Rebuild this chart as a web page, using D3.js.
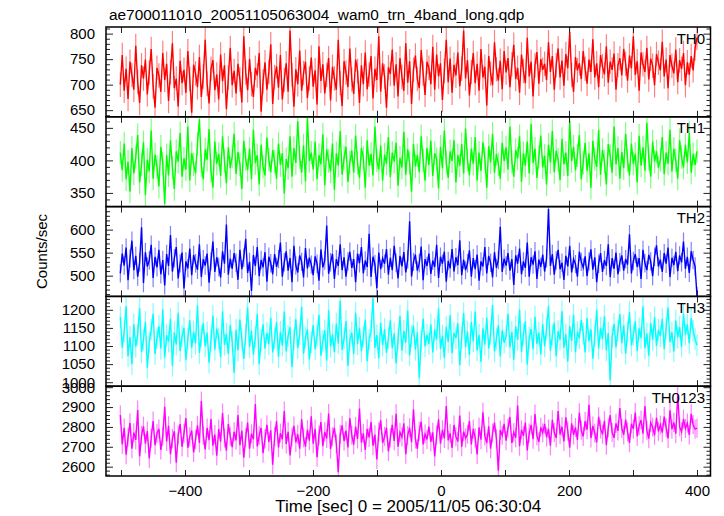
<!DOCTYPE html>
<html>
<head>
<meta charset="utf-8">
<script src="https://cdn.jsdelivr.net/npm/d3@7"></script>
<style>
html,body{margin:0;padding:0;background:#fff;}
svg{display:block;font-family:"Liberation Sans",Arial,Helvetica,sans-serif;}
</style>
</head>
<body>
<svg id="chart" width="724" height="516"></svg>
<script>
// ---- data ----
const titleText = "ae700011010_20051105063004_wam0_trn_4band_long.qdp";
const xLabel = "Time [sec] 0 = 2005/11/05 06:30:04";
const yLabel = "Counts/sec";
const binFirst = -501, binLast = 400; // time of first and last bin (sec)
const xTickValues = [-500,-400,-300,-200,-100,0,100,200,300,400];
const xTickLabels = [-400,-200,0,200,400];

const panelNames = ["TH0","TH1","TH2","TH3","TH0123"];
const panelColors = ["#ff0000","#00ff00","#0000ff","#00ffff","#ff00ff"];
const yDomains = [[637,813],[329,467],[455,650],[989,1237],[2553,3005]];
const yMajorTicks = [[650,700,750,800],[350,400,450],[500,550,600],[1000,1050,1100,1150,1200],[2600,2700,2800,2900,3000]];
const yMinorStep = [10,10,10,10,20];
const yErrors = [24,18,20,30,48]; // typical 1-sigma error bar per band (counts/sec)

const th0 = [
700,758,688,731,672,745,719,690,776,705,664,738,712,749,681,724,770,697,655,733,
718,686,762,709,741,668,725,781,693,712,657,747,703,729,684,766,711,645,739,722,
695,754,676,716,788,702,663,731,748,689,720,671,759,707,738,652,714,772,699,727,
683,741,710,665,795,724,689,750,701,676,733,718,762,647,706,744,690,725,779,662,
715,736,694,758,671,709,742,686,806,719,657,730,701,767,688,723,745,674,712,753,
696,728,661,775,707,740,683,719,752,669,735,712,690,788,703,658,746,724,695,771,
710,682,749,727,664,738,701,763,691,720,756,673,731,709,795,686,742,716,655,734,
721,769,698,740,677,752,715,688,781,704,746,662,729,757,711,693,768,722,680,745,
733,701,774,690,759,716,742,670,727,788,705,751,684,739,718,763,697,731,806,712,
748,679,725,762,703,741,688,770,714,735,659,756,722,699,783,730,708,747,691,766,
724,752,695,740,778,711,733,684,759,727,703,792,716,745,677,738,764,702,750,729,
741,709,783,725,756,690,738,771,714,747,698,760,732,803,719,686,754,728,742,711,
766,731,702,749,725,789,714,742,695,758,736,720,775,704,745,729,761,690,738,752,
718,770,741,708,757,732,795,719,746,688,763,740,725,772,710,751,737,699,760,743,
728,784,716,749,693,758,737,722,769,705,748,731,762,699,744,719,756,728,771,792];

const th1 = [
412,385,426,371,398,352,419,380,405,439,366,394,428,347,401,383,446,372,409,390,
360,421,395,333,408,377,431,389,356,414,398,442,375,403,386,452,369,411,394,380,
425,463,392,371,417,401,448,384,358,429,395,410,376,437,399,365,420,388,406,441,
379,413,394,356,430,402,385,418,371,447,396,408,363,424,390,377,435,401,382,416,
398,372,426,393,411,349,402,388,437,375,419,396,460,405,381,423,368,467,399,412,
386,429,371,408,394,440,362,417,399,383,426,355,411,392,445,378,404,421,367,397,
415,381,438,396,373,419,404,358,431,392,410,377,452,400,386,423,369,409,395,436,
374,412,398,427,361,404,389,444,378,417,396,352,425,391,408,382,437,400,369,419,
393,430,376,411,402,357,421,388,446,397,373,414,399,431,366,408,392,425,380,449,
401,377,418,395,436,369,412,384,428,403,358,422,397,441,381,410,394,372,427,399,
420,386,452,398,375,416,403,437,367,411,392,429,380,456,396,418,373,405,438,389,
407,363,424,397,445,382,415,401,370,433,394,412,376,460,399,421,385,408,439,371,
396,427,384,411,358,430,402,390,447,378,416,398,363,425,407,381,452,394,419,372,
413,388,441,400,377,426,395,410,366,438,392,420,384,458,403,375,429,398,414,389,
401,436,379,412,395,447,383,418,400,372,431,405,389,424,397,442,381,410,393,414];

const th2 = [
505,548,522,561,490,537,576,512,543,498,529,605,484,551,520,533,567,495,541,518,
556,503,534,479,547,521,588,509,538,562,494,527,550,472,531,516,559,501,545,527,
513,568,497,536,522,548,485,531,574,508,540,519,496,553,526,611,502,537,515,549,
528,491,556,514,539,580,506,530,467,545,521,562,499,534,518,551,487,541,527,503,
547,519,536,572,498,529,553,511,538,486,565,522,507,544,530,496,560,516,539,524,
501,542,526,489,557,518,533,609,504,529,547,493,536,521,568,512,540,498,531,552,
517,536,486,548,527,562,505,533,519,591,497,541,525,473,550,514,538,526,558,502,
539,512,565,528,494,543,520,551,507,535,618,498,530,546,511,527,563,490,536,521,
548,504,533,519,567,495,541,526,552,487,532,516,558,509,540,523,577,501,535,512,
527,555,498,538,514,546,489,531,520,562,505,543,528,496,551,517,534,606,508,537,
522,549,511,536,480,544,526,559,503,531,517,572,498,540,524,553,493,535,519,546,
509,538,645,521,547,502,533,556,514,528,491,543,520,565,507,536,525,498,552,530,
518,542,499,531,557,513,540,486,526,549,508,534,521,568,497,538,515,550,503,529,
544,511,536,524,590,505,532,547,519,538,493,556,527,512,545,531,499,541,566,520,
535,508,549,526,561,497,539,523,552,510,544,529,574,515,541,506,553,534,520,456];

const th3 = [
1180,1095,1140,1210,1072,1125,1050,1160,1098,1132,1205,1083,1118,1167,1040,1110,1145,1189,1078,1122,
1155,1093,1201,1068,1130,1112,1176,1045,1138,1104,1192,1086,1127,1150,1061,1119,1171,1095,1140,1107,
1212,1081,1128,1163,1099,1137,1054,1115,1184,1090,1148,1121,1069,1196,1103,1134,1078,1158,1112,1026,
1145,1088,1173,1119,1064,1131,1207,1097,1142,1076,1125,1188,1050,1116,1160,1093,1136,1105,1178,1082,
1121,1166,1070,1139,1101,1195,1085,1128,1152,1042,1117,1174,1094,1133,1208,1079,1124,1146,1063,1110,
1158,1091,1129,1186,1073,1114,1143,1060,1199,1098,1132,1083,1162,1107,1225,1089,1121,1169,1045,1116,
1137,1078,1192,1105,1150,1086,1126,1173,1058,1118,1141,1233,1095,1130,1066,1164,1102,1147,1081,1122,
1171,1094,1135,1052,1119,1183,1087,1142,1109,1198,1074,1127,1156,1090,1138,1011,1115,1176,1099,1131,
1106,1160,1082,1145,1118,1204,1092,1129,1067,1153,1111,1185,1080,1136,1122,1163,1047,1124,1191,1097,
1140,1075,1166,1113,1195,1088,1131,1056,1149,1104,1178,1093,1134,1213,1085,1120,1157,1071,1143,1109,
1126,1189,1096,1139,1062,1154,1117,1201,1084,1133,1168,1049,1123,1147,1091,1181,1106,1137,1077,1160,
1099,1148,1210,1087,1129,1164,1072,1141,1118,1196,1095,1132,1057,1155,1114,1186,1083,1139,1121,1172,
1134,1082,1177,1113,1146,1065,1127,1200,1093,1150,1119,1183,1088,1136,1005,1125,1161,1097,1142,1188,
1108,1157,1079,1139,1194,1102,1130,1168,1086,1149,1122,1210,1094,1135,1073,1163,1117,1180,1100,1145,
1127,1175,1092,1150,1206,1111,1138,1085,1170,1124,1152,1098,1189,1131,1160,1107,1178,1142,1119,1102];

const th0123 = [
2860,2712,2795,2660,2748,2820,2690,2771,2735,2885,2652,2758,2803,2716,2779,2641,2744,2830,2708,2767,
2790,2684,2752,2901,2727,2806,2663,2741,2778,2620,2759,2815,2700,2768,2845,2695,2750,2782,2672,2736,
2808,2719,2930,2757,2687,2795,2733,2840,2706,2762,2655,2789,2726,2870,2744,2681,2815,2752,2698,2775,
2733,2860,2708,2781,2645,2746,2822,2691,2766,2738,2915,2702,2757,2795,2668,2740,2811,2725,2783,2610,
2752,2829,2697,2769,2738,2880,2714,2775,2656,2748,2805,2722,2763,2690,2838,2745,2701,2786,2731,2853,
2716,2790,2648,2759,2824,2703,2775,2742,2867,2688,2751,2796,2715,2572,2763,2808,2729,2781,2697,2844,
2758,2711,2802,2739,2893,2722,2768,2684,2790,2747,2824,2705,2761,2636,2776,2833,2719,2752,2795,2677,
2745,2811,2730,2866,2701,2772,2749,2818,2663,2757,2796,2723,2889,2740,2690,2778,2826,2712,2764,2737,
2802,2725,2773,2651,2759,2838,2716,2785,2742,2905,2733,2768,2694,2810,2751,2727,2857,2701,2776,2744,
2763,2830,2712,2790,2745,2662,2798,2736,2874,2755,2719,2803,2690,2769,2822,2740,2580,2784,2758,2816,
2731,2795,2850,2719,2772,2746,2908,2703,2786,2755,2822,2682,2769,2810,2738,2865,2756,2724,2798,2771,
2815,2749,2790,2706,2836,2772,2744,2880,2762,2801,2727,2848,2779,2695,2818,2760,2797,2735,2871,2783,
2752,2829,2786,2912,2744,2805,2768,2722,2851,2790,2763,2831,2708,2796,2859,2772,2745,2818,2780,2895,
2794,2760,2837,2775,2720,2816,2789,2872,2752,2806,2835,2766,2905,2783,2741,2821,2798,2758,2846,2778,
2810,2771,2852,2796,2742,2884,2789,2823,2766,2958,2801,2775,2840,2792,2819,2760,2866,2811,2789,2794];

const seriesList = [th0, th1, th2, th3, th0123];

// ---- layout ----
const W = 724, H = 516;
const plotLeft = 106, plotRight = 710.5, plotTop = 27, plotBottom = 476;
const nPanels = panelNames.length;
const ph = (plotBottom - plotTop) / nPanels;
const FONT = 15;
const FF = "'Liberation Sans', Arial, Helvetica, sans-serif";

const svg = d3.select("#chart");
svg.append("rect").attr("width", W).attr("height", H).attr("fill", "#fff");

const x = d3.scaleLinear().domain([-523.4, 421.1]).range([plotLeft, plotRight]);

function timeOf(j, n) { return binFirst + j * (binLast - binFirst) / (n - 1); }

panelNames.forEach((name, i) => {
  const y0 = plotTop + i * ph;
  const y = d3.scaleLinear().domain(yDomains[i]).range([y0 + ph, y0]);
  const g = svg.append("g");

  const clipId = "clip" + i;
  svg.append("clipPath").attr("id", clipId)
    .append("rect").attr("x", plotLeft).attr("y", y0).attr("width", plotRight - plotLeft).attr("height", ph);

  const data = seriesList[i];
  const dg = g.append("g").attr("clip-path", `url(#${clipId})`);

  // error bars (lighter)
  dg.append("g").selectAll("line").data(data).join("line")
    .attr("x1", (d, j) => x(timeOf(j, data.length)))
    .attr("x2", (d, j) => x(timeOf(j, data.length)))
    .attr("y1", d => y(d - yErrors[i]))
    .attr("y2", d => y(d + yErrors[i]))
    .attr("stroke", panelColors[i])
    .attr("stroke-opacity", 0.5)
    .attr("stroke-width", 1.2);

  const line = d3.line().x((d, j) => x(timeOf(j, data.length))).y(d => y(d));
  dg.append("path").datum(data)
    .attr("d", line)
    .attr("fill", "none")
    .attr("stroke", panelColors[i])
    .attr("stroke-width", 1.4)
    .attr("stroke-linejoin", "miter");

  const [d0, d1] = yDomains[i];
  const minorVals = d3.range(Math.ceil(d0 / yMinorStep[i]) * yMinorStep[i], d1, yMinorStep[i])
    .filter(v => !yMajorTicks[i].includes(v));
  const axL = g.append("g").attr("transform", `translate(${plotLeft},0)`)
    .call(d3.axisLeft(y).tickValues(yMajorTicks[i]).tickSizeInner(-7).tickSizeOuter(0).tickPadding(11).tickFormat(d3.format("d")));
  const axLm = g.append("g").attr("transform", `translate(${plotLeft},0)`)
    .call(d3.axisLeft(y).tickValues(minorVals).tickSizeInner(-4).tickSizeOuter(0).tickFormat(""));
  const axR = g.append("g").attr("transform", `translate(${plotRight},0)`)
    .call(d3.axisRight(y).tickValues(yMajorTicks[i]).tickSizeInner(-7).tickSizeOuter(0).tickFormat(""));
  const axRm = g.append("g").attr("transform", `translate(${plotRight},0)`)
    .call(d3.axisRight(y).tickValues(minorVals).tickSizeInner(-4).tickSizeOuter(0).tickFormat(""));

  const axT = g.append("g").attr("transform", `translate(0,${y0})`)
    .call(d3.axisTop(x).tickValues(xTickValues).tickSizeInner(-6).tickSizeOuter(0).tickFormat(""));
  const axB = g.append("g").attr("transform", `translate(0,${y0 + ph})`)
    .call(d3.axisBottom(x).tickValues(xTickValues).tickSizeInner(-6).tickSizeOuter(0).tickPadding(9)
      .tickFormat(v => (i === nPanels - 1 && xTickLabels.includes(v)) ? d3.format("d")(v) : ""));

  [axL, axLm, axR, axRm, axT, axB].forEach(a => {
    a.select(".domain").remove();
    a.selectAll(".tick line").attr("stroke", "#222").attr("stroke-width", 1);
    a.selectAll(".tick text").attr("font-size", FONT).attr("fill", "#000").attr("font-family", FF);
  });

  g.append("text")
    .attr("x", 705).attr("y", y0 + 16.5)
    .attr("text-anchor", "end")
    .attr("font-size", FONT).attr("fill", "#000")
    .text(name);

  g.append("rect")
    .attr("x", plotLeft).attr("y", y0).attr("width", plotRight - plotLeft).attr("height", ph)
    .attr("fill", "none").attr("stroke", "#000").attr("stroke-width", 1.5);
});

svg.append("text")
  .attr("x", 109).attr("y", 20)
  .attr("font-size", 15.4).attr("fill", "#000")
  .text(titleText);

svg.append("text")
  .attr("x", (plotLeft + plotRight) / 2).attr("y", 512)
  .attr("text-anchor", "middle")
  .attr("font-size", 17).attr("fill", "#000")
  .text(xLabel);

svg.append("text")
  .attr("transform", `translate(47,${(plotTop + plotBottom) / 2}) rotate(-90)`)
  .attr("text-anchor", "middle")
  .attr("font-size", FONT).attr("fill", "#000")
  .text(yLabel);
</script>
</body>
</html>
